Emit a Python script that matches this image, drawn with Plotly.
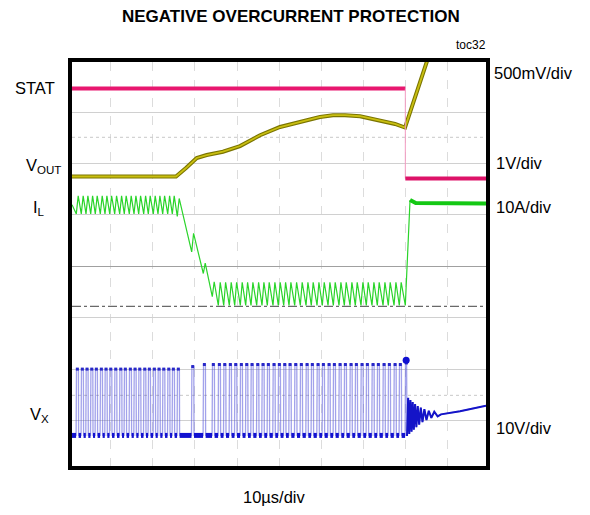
import plotly.graph_objects as go

# ---------------- data (time in µs, 10 µs/div; vertical in screen divisions) -------------
x_range = [0.81, 99.08]
y_range = [-3.885, 3.975]

# STAT (500mV/div)
stat_high_t = [0.81, 79.93]
stat_high_v = [3.46, 3.46]
stat_edge_t = [79.93, 79.93]
stat_edge_v = [3.46, 1.71]
stat_low_t = [79.93, 99.08]
stat_low_v = [1.71, 1.71]

# VOUT (1V/div)
vout_t = [0.81, 25.50, 27.87, 30.41, 32.78, 36.65, 40.69, 45.44, 50.18, 54.93,
          59.68, 62.76, 65.61, 69.17, 73.92, 77.48, 79.86, 85.08, 85.80]
vout_v = [1.747, 1.747, 1.912, 2.107, 2.165, 2.23, 2.34, 2.55, 2.71, 2.81,
          2.905, 2.94, 2.94, 2.92, 2.83, 2.77, 2.70, 3.97, 4.17]

# switching instants (start of each VX pulse)
pulse_t = [1.83, 3.01, 4.13, 5.25, 6.34, 7.53, 8.64, 9.76, 10.94, 12.13,
           13.22, 14.41, 15.53, 16.64, 17.83, 18.92, 20.11, 21.22, 22.34, 23.53,
           24.62, 25.80, 29.22, 31.98, 34.11, 35.54, 36.82, 38.15, 39.43, 40.76,
           42.04, 43.30, 44.65, 45.91, 47.17, 48.52, 49.78, 51.06, 52.32, 53.67,
           55.00, 56.36, 57.61, 58.97, 60.23, 61.58, 62.84, 64.19, 65.45, 66.80,
           68.06, 69.41, 70.67, 72.02, 73.28, 74.64, 75.89, 77.25, 78.50, 79.93]

# IL (10A/div): valley / peak of each ripple tooth
il_valley = [1.02] * 21 + [0.97, 0.28, -0.14, -0.59] + [-0.76] * 35
il_peak = [1.37] * 21 + [1.32, 0.64, 0.06, -0.30] + [-0.31] * 34 + [None]
il_start = (0.81, 1.20)
il_end_t = [81.05, 82.4, 99.08]
il_end_v = [1.29, 1.23, 1.22]
il_zero_level = -0.778

# VX (10V/div)
vx_high = [-2.0] * 22 + [-1.95] + [-1.91] * 36 + [-1.88]
vx_low = -3.29
ring_t = [80.33, 80.60, 80.87, 81.14, 81.41, 81.68, 81.95, 82.25, 82.55, 82.88,
          83.22, 83.60, 84.00, 84.45, 84.95, 85.50, 86.10, 86.80, 87.60, 88.40,
          92.91, 99.08]
ring_v = [-3.30, -2.56, -3.26, -2.60, -3.22, -2.64, -3.18, -2.68, -3.13, -2.72,
          -3.08, -2.75, -3.03, -2.78, -2.99, -2.81, -2.95, -2.83, -2.92, -2.88,
          -2.82, -2.71]

# ---------------- build polylines from read values -------------
rise = 0.45
il_t = [il_start[0]]
il_v = [il_start[1]]
for p, lo, hi in zip(pulse_t, il_valley, il_peak):
    il_t.append(p); il_v.append(lo)
    if hi is not None:
        il_t.append(p + rise); il_v.append(hi)
il_t += il_end_t[:1]
il_v += il_end_v[:1]

edge = 0.05
width = 0.5
vx_t, vx_v = [x_range[0]], [vx_low]
low_t, low_v = [x_range[0]], [vx_low]
top_t, top_v = [], []
for i, (p, hi) in enumerate(zip(pulse_t, vx_high)):
    last = i == len(pulse_t) - 1
    vx_t += [p - edge, p + edge]
    vx_v += [vx_low, hi]
    low_t += [p - edge, None]
    low_v += [vx_low, None]
    top_t.append(p + width / 2)
    top_v.append(hi)
    if not last:
        vx_t += [p + width, p + width + edge]
        vx_v += [hi, vx_low]
        low_t += [p + width + edge]
        low_v += [vx_low]
    else:
        vx_t += [p + 0.3]
        vx_v += [hi]
vx_t += ring_t
vx_v += ring_v

fig = go.Figure()

# reference lines
fig.add_trace(go.Scatter(x=x_range, y=[il_zero_level] * 2, mode="lines",
                         line=dict(color="#444444", width=1, dash="dashdot"),
                         hoverinfo="skip"))
for lvl in (2.51, -2.51):
    fig.add_trace(go.Scatter(x=x_range, y=[lvl, lvl], mode="lines",
                             line=dict(color="#c8c8c8", width=1, dash="dot"),
                             hoverinfo="skip"))

# VX
fig.add_trace(go.Scatter(x=vx_t, y=vx_v, mode="lines",
                         line=dict(color="rgba(70,70,215,0.5)", width=1.3)))
fig.add_trace(go.Scatter(x=low_t, y=low_v, mode="lines",
                         line=dict(color="#1212d0", width=5)))
fig.add_trace(go.Scatter(x=top_t, y=top_v, mode="markers",
                         marker=dict(color="#2828c8", size=3, symbol="square")))
fig.add_trace(go.Scatter(x=ring_t, y=ring_v, mode="lines",
                         line=dict(color="#1414c8", width=2)))
fig.add_trace(go.Scatter(x=[pulse_t[-1] + 0.2], y=[vx_high[-1] + 0.05], mode="markers",
                         marker=dict(color="#1010d0", size=7)))

# IL
fig.add_trace(go.Scatter(x=il_t, y=il_v, mode="lines",
                         line=dict(color="#2ad42a", width=1.2)))
fig.add_trace(go.Scatter(x=il_end_t, y=il_end_v, mode="lines",
                         line=dict(color="#14c814", width=4)))

# VOUT
fig.add_trace(go.Scatter(x=vout_t, y=vout_v, mode="lines",
                         line=dict(color="#7a7400", width=4)))
fig.add_trace(go.Scatter(x=vout_t, y=vout_v, mode="lines",
                         line=dict(color="#c9bf10", width=1.8)))

# STAT
fig.add_trace(go.Scatter(x=stat_high_t, y=stat_high_v, mode="lines",
                         line=dict(color="#e8176f", width=4)))
fig.add_trace(go.Scatter(x=stat_edge_t, y=stat_edge_v, mode="lines",
                         line=dict(color="#f29ac0", width=1)))
fig.add_trace(go.Scatter(x=stat_low_t, y=stat_low_v, mode="lines",
                         line=dict(color="#dd1268", width=4)))

font = "Liberation Sans, Arial, sans-serif"
L, R, T, B = 72, 104, 62, 49
pw, ph = 590 - L - R, 515 - T - B


def px(xp):
    return (xp - L) / pw


def py(yp):
    return (515 - B - yp) / ph


annots = [
    dict(text="<b>NEGATIVE OVERCURRENT PROTECTION</b>", x=px(291), y=py(17), xanchor="center", size=17),
    dict(text="toc32", x=px(488), y=py(45), xanchor="right", size=12),
    dict(text="STAT", x=px(57), y=py(88), xanchor="right", size=16.5),
    dict(text="V<sub>OUT</sub>", x=px(63), y=py(166), xanchor="right", size=16.5),
    dict(text="I<sub>L</sub>", x=px(47), y=py(208), xanchor="right", size=16.5),
    dict(text="V<sub>X</sub>", x=px(51), y=py(415), xanchor="right", size=16.5),
    dict(text="500mV/div", x=px(492), y=py(73), xanchor="left", size=16.5),
    dict(text="1V/div", x=px(494), y=py(163), xanchor="left", size=16.5),
    dict(text="10A/div", x=px(494), y=py(207), xanchor="left", size=16.5),
    dict(text="10V/div", x=px(494), y=py(428), xanchor="left", size=16.5),
    dict(text="10µs/div", x=px(274), y=py(497), xanchor="center", size=16.5),
]
for a in annots:
    fig.add_annotation(text=a["text"], x=a["x"], y=a["y"], xref="paper", yref="paper",
                       xanchor=a["xanchor"], yanchor="middle", showarrow=False,
                       font=dict(family=font, size=a["size"], color="#000000"))

fig.update_layout(
    width=590, height=515,
    margin=dict(l=L, r=R, t=T, b=B),
    paper_bgcolor="white", plot_bgcolor="white",
    showlegend=False,
    xaxis=dict(range=x_range, dtick=10, tick0=0, showticklabels=False, ticks="",
               showgrid=True, gridcolor="#dcdcdc", griddash="dash", gridwidth=1,
               zeroline=False, showline=True, linecolor="black", linewidth=3.5, mirror=True),
    yaxis=dict(range=y_range, dtick=1, tick0=0, showticklabels=False, ticks="",
               showgrid=True, gridcolor="#d0d0d0", gridwidth=1,
               zeroline=True, zerolinecolor="#a0a0a0", zerolinewidth=1,
               showline=True, linecolor="black", linewidth=3.5, mirror=True),
)

fig.write_html("out.html", config={"displayModeBar": False},
               post_script="document.body.style.margin='0';document.body.style.padding='0';")
